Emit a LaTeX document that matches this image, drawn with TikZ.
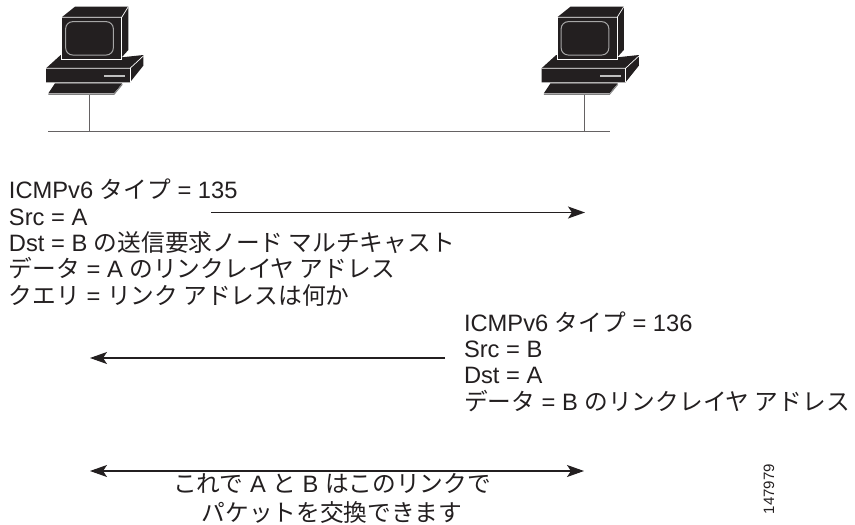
\documentclass[tikz,border=0pt]{standalone}
\usepackage{fontspec}
\setmainfont{Liberation Sans}
\newfontfamily\jpfont{Noto Sans CJK JP}
\newcommand{\J}[1]{{\jpfont #1}}
\usetikzlibrary{arrows.meta}
\definecolor{ink}{HTML}{231F20}
\tikzset{
  x=1pt,y=-1pt,
  txt/.style={anchor=base west,inner sep=0pt,outer sep=0pt,font=\fontsize{23.7}{28}\selectfont,text=ink},
  ctxt/.style={anchor=base,inner sep=0pt,outer sep=0pt,font=\fontsize{23.7}{28}\selectfont,text=ink},
  msg/.style={draw=ink,line width=1.1pt,-{Stealth[length=17pt,width=12pt,inset=4pt]}},
  both/.style={draw=ink,line width=1.1pt,{Stealth[length=17pt,width=12pt,inset=4pt]}-{Stealth[length=17pt,width=12pt,inset=4pt]}},
  wire/.style={draw=ink!70,line width=1pt},
  pics/host/.style={code={
    \begin{scope}[x=1pt/3,y=-1pt/3,xshift=-177pt/3]
      \fill[ink] (95,52)--(135,20)--(295,20)--(295,150)--(275,172)--(340,165)--(340,197)--(300,247)--(48,247)--(48,205)--(92,165)--(95,165)--cycle;
      \fill[ink] (75,250)--(277,250)--(252,280)--(55,280)--cycle;
      \draw[white,line width=.7pt] (95,52)--(275,52)--(295,20);
      \draw[white,line width=.7pt] (95,52)--(95,178)--(275,178)--(275,52);
      \draw[white,line width=.7pt] (48,205)--(300,205)--(340,168);
      \draw[white,line width=.7pt] (300,205)--(300,247);
      \draw[black!35,line width=1pt,rounded corners=7pt] (107,65) rectangle (250,165);
      \fill[black!25] (222,225) rectangle (285,232);
      \draw[black!50,line width=1pt] (55,283)--(252,283)--(277,253);
    \end{scope}
  }}
}
\begin{document}
\begin{tikzpicture}
\useasboundingbox (0,0) rectangle (855,525);
\pic at (89,0) {host};
\pic at (584.5,0) {host};
\coordinate (hA) at (89,95);
\coordinate (hB) at (584.5,95);
\coordinate (busL) at (48,131);
\coordinate (busR) at (610,131);
\draw[wire] (busL)--(busR);
\draw[wire] (hA)--(hA|-busL);
\draw[wire] (hB)--(hB|-busL);
\node[txt] (a1) at (9,198) {ICMPv6 \J{タイプ} = 135};
\node[txt] (a2) at (9,225) {Src = A};
\node[txt] (a3) at (9,251) {Dst = B \J{の送信要求ノード マルチキャスト}};
\node[txt] (a4) at (9,277) {\J{データ} = A \J{のリンクレイヤ アドレス}};
\node[txt] (a5) at (9,304) {\J{クエリ} = \J{リンク アドレスは何か}};
\node[txt] (b1) at (464,331) {ICMPv6 \J{タイプ} = 136};
\node[txt] (b2) at (464,357) {Src = B};
\node[txt] (b3) at (464,383) {Dst = A};
\node[txt] (b4) at (464,410) {\J{データ} = B \J{のリンクレイヤ アドレス}};
\node[ctxt] (c1) at (332,492) {\J{これで} A \J{と} B \J{はこのリンクで}};
\node[ctxt] (c2) at (332,521) {\J{パケットを交換できます}};
\node[anchor=base,rotate=90,inner sep=0pt,font=\fontsize{15}{18}\selectfont,text=ink] (id) at (774,489) {147979};
\coordinate (m1s) at (211,212.5);
\coordinate (m1e) at (585,212.5);
\coordinate (m2s) at (445,358);
\coordinate (m2e) at (90,358);
\coordinate (m3s) at (90,471);
\coordinate (m3e) at (584,471);
\draw[msg] (m1s)--(m1e);
\draw[msg] (m2s)--(m2e);
\draw[both] (m3s)--(m3e);
\end{tikzpicture}
\end{document}
